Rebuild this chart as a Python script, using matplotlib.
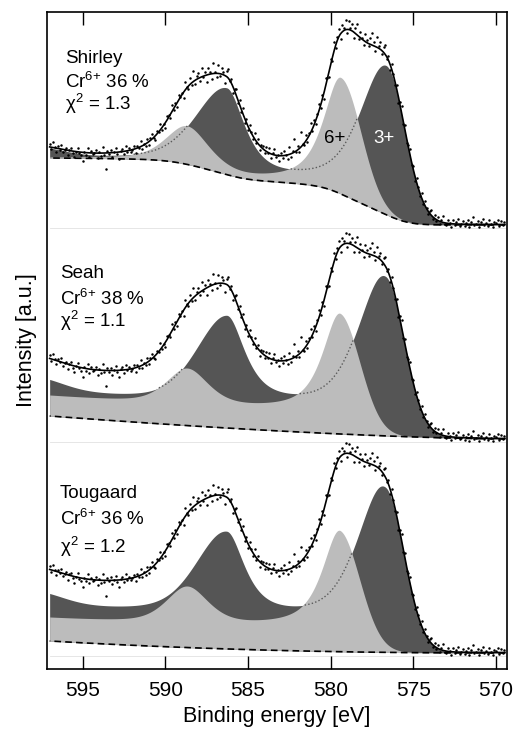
import numpy as np
import matplotlib
matplotlib.use("Agg")
import matplotlib.pyplot as plt

plt.rcParams["font.family"] = ["Liberation Sans", "DejaVu Sans"]
plt.rcParams["mathtext.fontset"] = "custom"
plt.rcParams["mathtext.rm"] = "Liberation Sans"
plt.rcParams["mathtext.it"] = "Liberation Sans:italic"

# ---- measured Cr 2p spectrum: energy grid and deviation of counts from the fit
energy_start, energy_step, n_points = 597.0, 0.1, 276
residuals = [
    3, -2, 5, 1, -4, 2, -1, 4, -3, 0,
    2, -5, 1, 3, -2, -6, 0, 4, -1, -3,
    -9, 1, -2, 5, -4, 2, -1, 0, 3, -5,
    1, -3, 6, -2, -16, 2, -1, 3, -4, 0,
    4, -2, -7, 1, 3, -3, 5, -1, 2, -2,
    0, 3, -4, 2, -1, 6, -3, 1, -2, 4,
    -3, 2, 5, -1, -4, 3, 0, 6, -2, 1,
    -5, 4, 2, -3, 7, -1, 3, -4, 5, 0,
    2, -6, 8, 1, -3, 6, -2, 10, -4, 3,
    5, -3, 9, -1, 4, -7, 7, 2, -5, 11,
    1, -4, 8, -2, 6, 3, -8, 5, 9, -1,
    4, -6, 2, 7, -3, 5, -2, 6, -5, 3,
    -4, 5, 1, -3, 6, -2, 4, -5, 2, 3,
    -3, 4, -1, 5, -4, 2, 6, -2, 1, -5,
    3, -2, 5, 0, -4, 7, -3, 2, 13, -1,
    4, -3, 15, 1, -2, 6, -4, 3, 9, -2,
    5, -4, 2, 7, -3, 4, -6, 8, 1, -5,
    6, -3, 9, -2, 4, 8, -5, 7, 3, 10,
    -4, 9, 2, 7, -6, 5, 11, -3, 6, 1,
    -5, 8, 3, -2, 6, 12, 4, -4, 10, 2,
    7, -3, 5, 9, -2, 4, -5, 6, 1, -3,
    4, -6, 3, 7, -2, 5, -4, 2, 6, -3,
    3, -5, 4, 1, -3, 5, -2, 4, 0, -3,
    2, 5, -2, 3, -1, 4, -3, 2, 6, -1,
    -2, 3, 1, -3, 4, -1, 2, 5, -2, 0,
    3, -2, 1, 4, -3, 2, 7, -1, 0, 3,
    -3, 2, 5, -1, 1, -2, 4, 0, -3, 2,
    1, 4, -2, 3, -1, 2,
]

# ---- one panel per background model
backgrounds = ["Shirley", "Seah", "Tougaard"]
cr6_percent = [36, 38, 36]
chi_square = [1.3, 1.1, 1.2]
panel_offset = [428, 214, 0]
bg_height = [67, 23, 12]
bg_power = [None, 1.5, 2.2]

# line shapes: centre, FWHM (high-BE side), Lorentz fraction (high-BE side),
#              FWHM (low-BE side), Lorentz fraction (low-BE side)
cr3_shapes = [(576.65, 3.8, 0.5, 2.7, 0.0), (586.3, 4.3, 0.3, 2.6, 0.8)]
cr6_shapes = [(579.4, 2.5, 0.8, 2.9, 0.0), (588.7, 3.0, 0.5, 3.0, 0.5)]
satellite_shape = (598.0, 4.0, 0.0, 4.0, 0.0)

# line heights per panel (2p3/2, 2p1/2) and Cr3+ satellite height
cr3_heights = [[148, 84], [146, 86], [148, 82]]
cr6_heights = [[116, 37], [110, 36], [109, 37]]
satellite_heights = [10, 13, 13]
# inelastic steps attached to each component: position, height
cr3_steps = [[], [(576.65, 24)], [(576.65, 31), (586.3, 4)]]
cr6_steps = [[], [(579.4, 20)], [(579.4, 23)]]

e_low, e_high = 569.45, 597.0


def line_shape(e, centre, height, fwhm_hi, eta_hi, fwhm_lo, eta_lo):
    d = e - centre
    hi = d > 0
    f = np.where(hi, fwhm_hi, fwhm_lo)
    x2 = (d / f) ** 2
    gauss = np.exp(-4 * np.log(2) * x2)
    lorentz = 1.0 / (1.0 + 4.0 * x2)
    eta = np.where(hi, eta_hi, eta_lo)
    return height * ((1 - eta) * gauss + eta * lorentz)


def step(e, centre, height, width=1.0):
    return height * 0.5 * (1 + np.tanh((e - centre) / width))


def peaks(e, shapes, heights):
    y = np.zeros_like(e)
    for (c, fh, eh, fl, el), h in zip(shapes, heights):
        y += line_shape(e, c, h, fh, eh, fl, el)
    return y


def steps_sum(e, steps):
    y = np.zeros_like(e)
    for c, h in steps:
        y += step(e, c, h)
    return y


def background(e, kind, height, power, main_peaks):
    if kind == "Shirley":
        order = np.argsort(e)
        cum = np.cumsum(main_peaks[order])
        b = np.empty_like(e)
        b[order] = height * cum / cum[-1]
        return b
    u = np.clip((e - e_low) / (e_high - e_low), 0, 1)
    return height * u ** power


energy = energy_start - energy_step * np.arange(n_points)
e_fine = np.linspace(e_low, e_high, 1400)

fig = plt.figure(figsize=(5.14, 7.31), dpi=100)
ax = fig.add_axes([47 / 514, 1 - 669 / 731, 460 / 514, 657 / 731])

dark, light = "#555555", "#bcbcbc"

for k, name in enumerate(backgrounds):
    off = panel_offset[k]
    p3 = peaks(e_fine, cr3_shapes, cr3_heights[k])
    p6 = peaks(e_fine, cr6_shapes, cr6_heights[k])
    bg = background(e_fine, name, bg_height[k], bg_power[k], p3 + p6)
    sat = peaks(e_fine, [satellite_shape], [satellite_heights[k]])
    c3 = p3 + sat + steps_sum(e_fine, cr3_steps[k])
    c6 = p6 + steps_sum(e_fine, cr6_steps[k])
    fit = bg + c3 + c6

    ax.plot([e_low, e_high], [off - 3, off - 3], color="#e2e2e2", lw=0.6, zorder=1)
    ax.fill_between(e_fine, off + bg, off + bg + c3, color=dark, lw=0, zorder=2)
    ax.fill_between(e_fine, off + bg, off + bg + c6, color=light, lw=0, zorder=3)
    hidden = np.where(c6 > c3, off + bg + c3, np.nan)
    ax.plot(e_fine, hidden, color="#5a5a5a", lw=1.0, ls=(0, (1, 1.6)), zorder=4)
    ax.plot(e_fine, off + bg, color="black", lw=1.2, ls=(0, (4, 2.5)), zorder=5)
    ax.plot(e_fine, off + fit, color="black", lw=1.2, zorder=6)
    measured = np.interp(energy, e_fine, fit) + np.array(residuals)
    ax.scatter(energy, off + measured, s=3.2, color="black", lw=0, zorder=7)

# panel annotations (figure pixel positions)
labels_xy = [(65, 63, 88, 110), (60.5, 278, 305, 327), (59.5, 498, 525, 553)]
W, H = 514, 731
for k, name in enumerate(backgrounds):
    x, y1, y2, y3 = labels_xy[k]
    fig.text(x / W, 1 - y1 / H, name, fontsize=13.5, va="baseline")
    fig.text(x / W, 1 - y2 / H, "Cr$^{6{+}}$ %d %%" % cr6_percent[k], fontsize=13.5, va="baseline")
    fig.text(x / W, 1 - y3 / H, "\u03c7$^{2}$ = %.1f" % chi_square[k], fontsize=13.5, va="baseline")

fig.text(335 / W, 1 - 143 / H, "6+", fontsize=13.5, ha="center", va="baseline", color="black")
fig.text(384 / W, 1 - 143 / H, "3+", fontsize=13.5, ha="center", va="baseline", color="white")

ax.set_xlim(597.16, 569.33)
ax.set_ylim(-16, 641)
ax.set_xticks([595, 590, 585, 580, 575, 570])
ax.set_yticks([])
ax.tick_params(axis="x", direction="in", length=9.5, width=1.0, top=True,
               labelsize=15, pad=9)
for s in ax.spines.values():
    s.set_linewidth(1.2)
ax.set_xlabel("Binding energy [eV]", fontsize=15.5, labelpad=4)
ax.set_ylabel("Intensity [a.u.]", fontsize=15.5, labelpad=7)

fig.savefig("out.png", dpi=100)
